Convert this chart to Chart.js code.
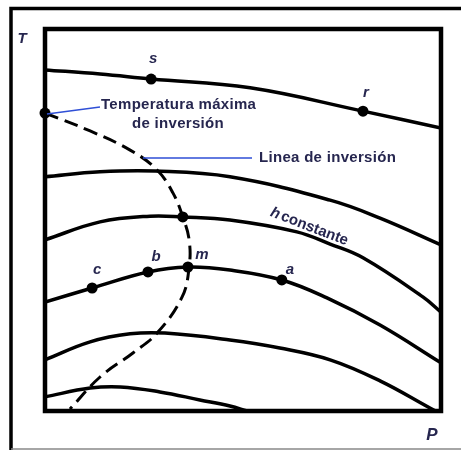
<!DOCTYPE html>
<html>
<head>
<meta charset="utf-8">
<script src="https://cdn.jsdelivr.net/npm/chart.js@4.4.1/dist/chart.umd.min.js"></script>
<style>
  html, body { margin: 0; padding: 0; background: #fff; }
  canvas { display: block; }
</style>
</head>
<body>
<canvas id="jt" width="461" height="450"></canvas>
<script>
// Isenthalps on the T-P diagram (P and T as 0-100 of the frame)
const h1P = [0, 13.9, 26.8, 51.8, 80.3, 100];
const h1T = [89.3, 88.2, 86.9, 84.6, 78.5, 74.1];
const h2P = [0, 13.9, 27.8, 46.7, 72.0, 84.6, 100];
const h2T = [61.3, 62.6, 62.8, 61.3, 55.2, 50.5, 43.5];
const h3P = [0, 13.9, 26.5, 34.8, 46.7, 63.6, 72.0, 80.3, 95.5, 100];
const h3T = [44.8, 49.5, 51.0, 50.8, 50.0, 46.9, 43.7, 40.1, 29.8, 25.9];
const h4P = [0, 11.9, 26.0, 36.1, 46.7, 59.8, 71.2, 84.6, 100];
const h4T = [28.5, 32.2, 36.4, 37.7, 36.9, 34.3, 29.6, 22.5, 12.6];
const h5P = [0, 11.4, 21.5, 30.3, 46.7, 59.3, 72.0, 84.6, 97.2, 101];
const h5T = [13.4, 18.1, 20.2, 20.4, 18.6, 16.5, 13.4, 7.9, 0.8, -1.3];
const h6P = [0, 11.4, 19.0, 29.0, 39.1, 46.7, 51.0, 54.3];
const h6T = [3.7, 6.0, 6.3, 5.0, 2.9, 1.3, 0, -1.0];

// inversion curve (dashed)
const invP = [0, 11.4, 21.5, 28.3, 32.3, 34.8, 36.4, 36.4, 34.6, 28.3, 22.2, 13.9, 6.3];
const invT = [78.0, 73.3, 68.3, 63.1, 57.1, 50.8, 44.8, 37.7, 29.8, 20.4, 15.2, 8.9, 0.5];

// marked states
const ptNames = ['', 's', 'r', '', 'c', 'b', 'm', 'a'];
const ptP = [0, 26.8, 80.3, 34.8, 11.9, 26.0, 36.1, 59.8];
const ptT = [78.0, 86.9, 78.5, 50.8, 32.2, 36.4, 37.7, 34.3];

const TEXT = '#26264f';
const BLUE = '#2f4fd6';

const toXY = (p, t) => p.map((v, i) => ({ x: v, y: t[i] }));

const hLines = [[h1P, h1T], [h2P, h2T], [h3P, h3T], [h4P, h4T], [h5P, h5T], [h6P, h6T]];
const datasets = hLines.map(([p, t]) => ({
  data: toXY(p, t),
  showLine: true,
  borderColor: '#000',
  borderWidth: 3.5,
  pointRadius: 0,
  tension: 0.4,
  clip: 0
}));
datasets.push({
  data: toXY(invP, invT),
  showLine: true,
  borderColor: '#000',
  borderWidth: 3,
  borderDash: [14, 7],
  pointRadius: 0,
  tension: 0.4,
  clip: 0
});
datasets.push({
  data: toXY(ptP, ptT),
  showLine: false,
  pointRadius: 5.5,
  pointBackgroundColor: '#000',
  pointBorderWidth: 0,
  clip: false
});

// label offsets from each marked point, in px
const labelOffset = { s: [2, -20], r: [3, -18], c: [5, -18], b: [8, -15], m: [14, -12], a: [8, -10] };

const decor = {
  id: 'decor',
  afterDatasetsDraw(chart) {
    const ctx = chart.ctx;
    const a = chart.chartArea;
    const xs = chart.scales.x, ys = chart.scales.y;
    ctx.save();

    // outer box
    ctx.strokeStyle = '#000';
    ctx.lineWidth = 3.5;
    ctx.beginPath();
    ctx.moveTo(11, 452);
    ctx.lineTo(11, 8.5);
    ctx.lineTo(470, 8.5);
    ctx.stroke();
    ctx.strokeStyle = '#888';
    ctx.lineWidth = 1.5;
    ctx.beginPath();
    ctx.moveTo(11, 449);
    ctx.lineTo(461, 449);
    ctx.stroke();

    // plot frame
    ctx.strokeStyle = '#000';
    ctx.lineWidth = 4.5;
    ctx.strokeRect(a.left, a.top, a.right - a.left, a.bottom - a.top);

    // axis letters
    ctx.fillStyle = TEXT;
    ctx.textAlign = 'center';
    ctx.textBaseline = 'middle';
    ctx.font = 'italic bold 15px "Liberation Sans", Arial, sans-serif';
    ctx.fillText('T', 22, 39);
    ctx.font = 'italic bold 17px "Liberation Sans", Arial, sans-serif';
    ctx.fillText('P', 432, 435);

    // state letters
    ctx.font = 'italic bold 15px "Liberation Sans", Arial, sans-serif';
    ptNames.forEach((n, i) => {
      if (!n) return;
      const off = labelOffset[n];
      ctx.fillText(n, xs.getPixelForValue(ptP[i]) + off[0], ys.getPixelForValue(ptT[i]) + off[1]);
    });

    // leader lines
    const tx = xs.getPixelForValue(ptP[0]), ty = ys.getPixelForValue(ptT[0]);
    ctx.strokeStyle = BLUE;
    ctx.lineWidth = 1.5;
    ctx.beginPath();
    ctx.moveTo(tx + 2, ty + 1);
    ctx.lineTo(100, 107);
    ctx.moveTo(143, 158);
    ctx.lineTo(252, 158);
    ctx.stroke();

    ctx.font = 'bold 15px "Liberation Sans", Arial, sans-serif';
    ctx.letterSpacing = '0.3px';
    ctx.textAlign = 'left';
    ctx.fillText('Temperatura máxima', 101, 105);
    ctx.textAlign = 'center';
    ctx.fillText('de inversión', 178, 124);
    ctx.textAlign = 'left';
    ctx.fillText('Linea de inversión', 259, 158);
    ctx.letterSpacing = '0px';

    // h constante, along the third isenthalp
    ctx.translate(271, 212);
    ctx.rotate(21 * Math.PI / 180);
    ctx.font = 'italic bold 15px "Liberation Sans", Arial, sans-serif';
    ctx.fillText('h', 0, 0);
    const hw = ctx.measureText('h').width;
    ctx.font = 'bold 15px "Liberation Sans", Arial, sans-serif';
    ctx.fillText('constante', hw + 2, 0);

    ctx.restore();
  }
};

new Chart(document.getElementById('jt'), {
  type: 'scatter',
  data: { datasets: datasets },
  options: {
    responsive: false,
    animation: false,
    devicePixelRatio: 1,
    layout: { padding: { left: 45, top: 29, right: 20, bottom: 39 } },
    plugins: { legend: { display: false }, tooltip: { enabled: false } },
    scales: {
      x: { type: 'linear', min: 0, max: 100, display: false },
      y: { type: 'linear', min: 0, max: 100, display: false }
    }
  },
  plugins: [decor]
});
</script>
</body>
</html>
